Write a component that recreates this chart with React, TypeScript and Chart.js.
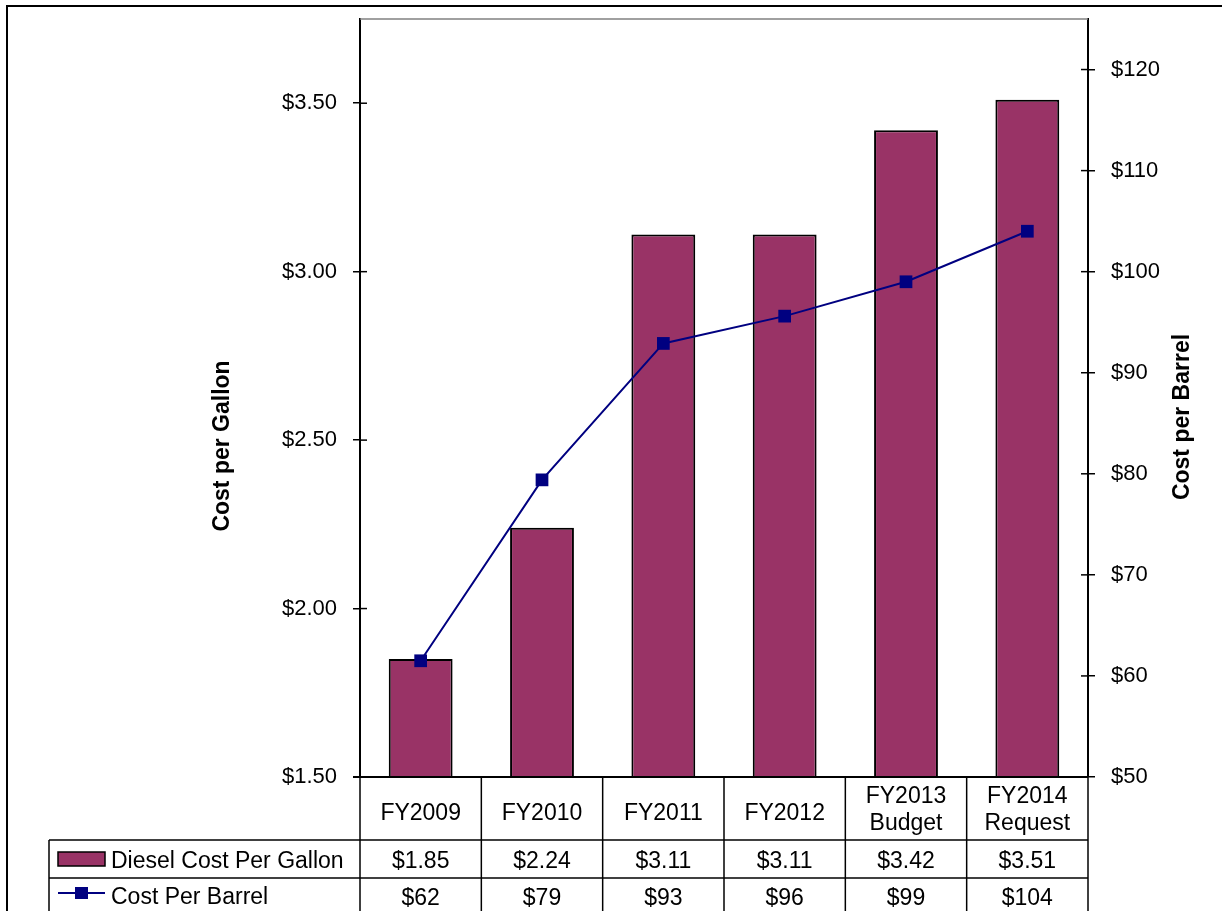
import React, { useEffect, useRef } from 'react';
import { Chart, registerables } from 'chart.js';

Chart.register(...registerables);

// ---- data ----
const categories: (string | string[])[] = ['FY2009', 'FY2010', 'FY2011', 'FY2012', ['FY2013', 'Budget'], ['FY2014', 'Request']];
const dieselPerGallon = [1.85, 2.24, 3.11, 3.11, 3.42, 3.51];
const costPerBarrel = [61.5, 79.4, 92.9, 95.6, 99.0, 104.0];
const seriesNames = ['Diesel Cost Per Gallon', 'Cost Per Barrel'];
const axisTitles = ['Cost per Gallon', 'Cost per Barrel'];
const gallonRange = [1.5, 3.75, 0.5];
const barrelRange = [50, 125, 10];

const FONT = "'Liberation Sans', Arial, Helvetica, sans-serif";
const PLUM = '#993366';
const NAVY = '#000080';

const fmtGallon = (v: number) => '$' + v.toFixed(2);
const fmtBarrel = (v: number) => '$' + Math.round(v);

const tablePlugin = {
  id: 'excelTable',
  afterDraw(chart: any) {
    const ctx: CanvasRenderingContext2D = chart.ctx;
    const { left, right, top, bottom } = chart.chartArea;
    const xs = chart.scales.x;
    const yl = chart.scales.y;
    const yr = chart.scales.y1;
    const n = categories.length;
    const catW = (right - left) / n;
    const row1 = 840;
    const row2 = 878;
    const tableLeft = 49;
    const pageBottom = chart.height + 20;

    ctx.save();
    const seg = (x1: number, y1: number, x2: number, y2: number) => {
      ctx.beginPath();
      ctx.moveTo(x1, y1);
      ctx.lineTo(x2, y2);
      ctx.stroke();
    };

    // plot-area top border (gray)
    ctx.strokeStyle = '#808080';
    ctx.lineWidth = 1.5;
    seg(left, top, right, top);

    // inner halves of cross tick marks
    ctx.strokeStyle = '#000';
    ctx.lineWidth = 1.5;
    yl.ticks.forEach((t: any) => {
      const p = yl.getPixelForValue(t.value);
      seg(left, p, left + 7, p);
    });
    yr.ticks.forEach((t: any) => {
      const p = yr.getPixelForValue(t.value);
      seg(right - 7, p, right, p);
    });

    // category axis line
    ctx.lineWidth = 2;
    seg(left - 7, bottom, right, bottom);

    // table grid
    ctx.lineWidth = 1.5;
    for (let i = 0; i <= n; i++) {
      const xp = i < n ? xs.getPixelForValue(i) - catW / 2 : xs.getPixelForValue(n - 1) + catW / 2;
      seg(xp, bottom, xp, pageBottom);
    }
    seg(tableLeft, row1, right, row1);
    seg(tableLeft, row2, right, row2);
    seg(tableLeft, row1, tableLeft, pageBottom);

    // texts
    ctx.fillStyle = '#000';
    ctx.font = `23px ${FONT}`;
    ctx.textAlign = 'center';
    ctx.textBaseline = 'alphabetic';
    categories.forEach((c, i) => {
      const cx = xs.getPixelForValue(i);
      if (Array.isArray(c)) {
        ctx.fillText(c[0], cx, 803);
        ctx.fillText(c[1], cx, 830);
      } else {
        ctx.fillText(c, cx, 820);
      }
      ctx.fillText(fmtGallon(dieselPerGallon[i]), cx, 868);
      ctx.fillText(fmtBarrel(costPerBarrel[i]), cx, 905);
    });

    // legend keys
    ctx.textAlign = 'left';
    ctx.fillText(seriesNames[0], 111, 868);
    ctx.fillText(seriesNames[1], 111, 904);
    ctx.fillStyle = PLUM;
    ctx.fillRect(58, 852, 47, 14);
    ctx.strokeStyle = '#000';
    ctx.lineWidth = 1.5;
    ctx.strokeRect(58, 852, 47, 14);
    ctx.strokeStyle = NAVY;
    ctx.lineWidth = 2;
    seg(58, 893, 105, 893);
    ctx.fillStyle = NAVY;
    ctx.fillRect(75, 887, 13, 12);

    // axis titles
    ctx.fillStyle = '#000';
    ctx.font = `bold 23px ${FONT}`;
    ctx.textAlign = 'center';
    ctx.textBaseline = 'middle';
    ctx.save();
    ctx.translate(223, 446);
    ctx.rotate(-Math.PI / 2);
    ctx.fillText(axisTitles[0], 0, 0);
    ctx.restore();
    ctx.save();
    ctx.translate(1183, 417);
    ctx.rotate(-Math.PI / 2);
    ctx.fillText(axisTitles[1], 0, 0);
    ctx.restore();

    // outer chart frame
    ctx.strokeStyle = '#000';
    ctx.lineWidth = 2;
    ctx.strokeRect(7, 6, chart.width + 50, chart.height + 50);

    ctx.restore();
  },
};

export default function App() {
  const ref = useRef<HTMLCanvasElement>(null);

  useEffect(() => {
    if (!ref.current) return;
    const chart = new Chart(ref.current, {
      type: 'bar',
      data: {
        labels: categories.map((c) => (Array.isArray(c) ? c.join(' ') : c)),
        datasets: [
          {
            type: 'line',
            label: seriesNames[1],
            data: costPerBarrel,
            yAxisID: 'y1',
            borderColor: NAVY,
            borderWidth: 2,
            backgroundColor: NAVY,
            pointStyle: 'rect',
            pointRadius: 9,
            pointBackgroundColor: NAVY,
            pointBorderColor: NAVY,
            pointBorderWidth: 0,
            tension: 0,
            order: 0,
          } as any,
          {
            type: 'bar',
            label: seriesNames[0],
            data: dieselPerGallon,
            yAxisID: 'y',
            backgroundColor: PLUM,
            borderColor: '#000',
            borderWidth: 2,
            categoryPercentage: 1,
            barPercentage: 1 / 1.9,
            order: 1,
          },
        ],
      },
      options: {
        responsive: false,
        devicePixelRatio: 1,
        animation: false,
        layout: { padding: { top: 19, bottom: 134, left: 0, right: 0 } },
        plugins: {
          legend: { display: false },
          tooltip: { enabled: false },
          title: { display: false },
        },
        scales: {
          x: { display: false, offset: true },
          y: {
            position: 'left',
            min: gallonRange[0],
            max: gallonRange[1],
            ticks: {
              stepSize: gallonRange[2],
              includeBounds: false,
              padding: 16,
              color: '#000',
              font: { family: FONT, size: 22 },
              callback: (v: any) => fmtGallon(Number(v)),
            },
            grid: { drawOnChartArea: false, drawTicks: true, tickLength: 7, color: '#000', lineWidth: 1.5 },
            border: { display: true, color: '#000', width: 2 },
            afterFit: (s: any) => {
              s.width = 360;
              s.paddingTop = 0;
              s.paddingBottom = 0;
            },
          },
          y1: {
            position: 'right',
            min: barrelRange[0],
            max: barrelRange[1],
            ticks: {
              stepSize: barrelRange[2],
              includeBounds: false,
              padding: 16,
              color: '#000',
              font: { family: FONT, size: 22 },
              callback: (v: any) => fmtBarrel(Number(v)),
            },
            grid: { drawOnChartArea: false, drawTicks: true, tickLength: 7, color: '#000', lineWidth: 1.5 },
            border: { display: true, color: '#000', width: 2 },
            afterFit: (s: any) => {
              s.width = 134;
              s.paddingTop = 0;
              s.paddingBottom = 0;
            },
          },
        },
      },
      plugins: [tablePlugin],
    });
    return () => chart.destroy();
  }, []);

  return (
    <div style={{ position: 'absolute', left: 0, top: 0, width: 1222, height: 911, background: '#fff' }}>
      <canvas ref={ref} width={1222} height={911} style={{ display: 'block' }} />
    </div>
  );
}
